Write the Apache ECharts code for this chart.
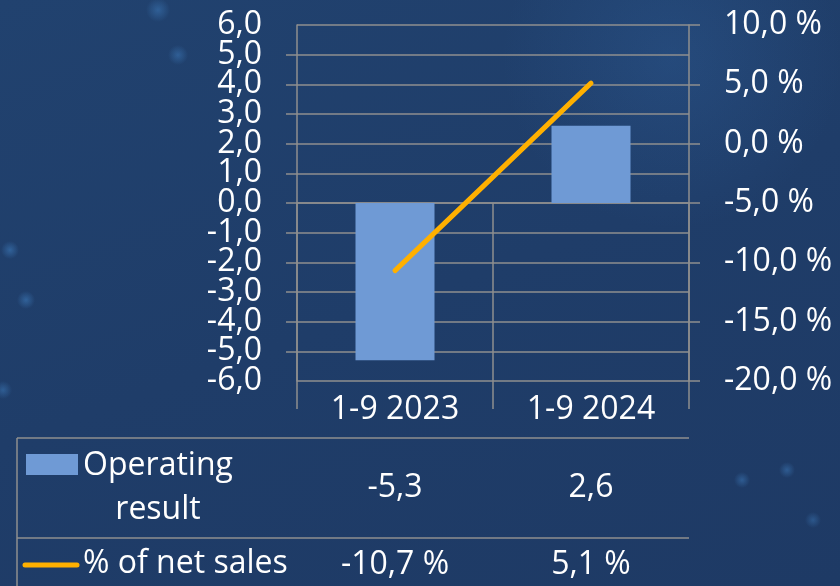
<!DOCTYPE html>
<html>
<head>
<meta charset="utf-8">
<script src="https://cdn.jsdelivr.net/npm/echarts@6/dist/echarts.min.js"></script>
<style>
    html, body { margin: 0; padding: 0; }
    body {
        width: 840px; height: 586px; overflow: hidden;
        /* dark blue backdrop with a few soft bokeh spots */
        background:
            radial-gradient(circle at 10px 250px, rgba(70, 140, 210, 0.45) 0, rgba(70, 140, 210, 0) 9px),
            radial-gradient(circle at 26px 300px, rgba(70, 140, 210, 0.45) 0, rgba(70, 140, 210, 0) 9px),
            radial-gradient(circle at 3px 390px, rgba(70, 140, 210, 0.4) 0, rgba(70, 140, 210, 0) 9px),
            radial-gradient(circle at 158px 10px, rgba(70, 140, 210, 0.4) 0, rgba(70, 140, 210, 0) 12px),
            radial-gradient(circle at 178px 55px, rgba(70, 140, 210, 0.4) 0, rgba(70, 140, 210, 0) 10px),
            radial-gradient(circle at 742px 480px, rgba(70, 140, 210, 0.4) 0, rgba(70, 140, 210, 0) 8px),
            radial-gradient(circle at 787px 470px, rgba(70, 140, 210, 0.4) 0, rgba(70, 140, 210, 0) 8px),
            radial-gradient(circle at 813px 520px, rgba(70, 140, 210, 0.35) 0, rgba(70, 140, 210, 0) 8px),
            radial-gradient(circle at 80% 10%, rgba(60, 120, 190, 0.2) 0, rgba(60, 120, 190, 0) 170px),
            linear-gradient(160deg, #21426f 0%, #1f3d69 50%, #1e3a65 100%);
    }
    #chart { width: 840px; height: 586px; }
</style>
</head>
<body>
<div id="chart"></div>
<script>
// data
var categories = ['1-9 2023', '1-9 2024'];
var seriesNames = ['Operating result', '% of net sales'];
var operatingResult = [-5.3, 2.6];
var pctOfNetSales = [-10.7, 5.1];
var leftMin = -6, leftMax = 6;

var gridColor = '#8f8f8f';
var barColor = '#6f9ad5';
var lineColor = '#ffb000';
var font = 'Open Sans';
var fontSize = 32;

function comma(v) {
    return v.toFixed(1).replace('.', ',');
}

var chart = echarts.init(document.getElementById('chart'));

// value rows of the table are drawn as extra category axes below the grid
function tableRow(values, fmt, offset) {
    return {
        type: 'category',
        gridIndex: 0,
        position: 'bottom',
        offset: offset,
        data: values.map(fmt),
        axisLine: {show: false},
        axisTick: {show: false},
        axisLabel: {
            color: '#fff', fontFamily: font, fontSize: fontSize, lineHeight: 30,
            margin: 14, interval: 0
        }
    };
}

var leftLabel = {color: '#fff', fontFamily: font, fontSize: fontSize, margin: 35};

chart.setOption({
    animation: false,
    grid: {left: 297, top: 25, width: 392, height: 356},
    xAxis: [
        {
            type: 'category',
            data: categories,
            axisLine: {show: true, lineStyle: {color: gridColor, width: 1.5}},
            axisTick: {show: true, length: 206, interval: 0, lineStyle: {color: gridColor, width: 1.5}},
            axisLabel: {
                color: '#fff', fontFamily: font, fontSize: fontSize, lineHeight: 30,
                margin: 14, interval: 0
            }
        },
        tableRow(operatingResult, comma, 78),
        tableRow(pctOfNetSales, function (v) { return comma(v) + ' %'; }, 155)
    ],
    yAxis: [
        {
            type: 'value',
            min: leftMin, max: leftMax, interval: 1,
            axisLine: {show: true, lineStyle: {color: gridColor, width: 1.5}},
            axisTick: {show: true, length: 11, lineStyle: {color: gridColor, width: 1.5}},
            splitLine: {show: true, lineStyle: {color: gridColor, width: 1.5}},
            axisLabel: Object.assign({
                showMinLabel: false, showMaxLabel: false, formatter: comma
            }, leftLabel)
        },
        {
            type: 'value',
            min: -20, max: 10, interval: 5,
            position: 'right',
            axisLine: {show: true, lineStyle: {color: gridColor, width: 1.5}},
            axisTick: {show: true, length: 11, lineStyle: {color: gridColor, width: 1.5}},
            splitLine: {show: false},
            axisLabel: {
                color: '#fff', fontFamily: font, fontSize: fontSize, margin: 35,
                showMinLabel: true, showMaxLabel: true,
                formatter: function (v) { return comma(v) + ' %'; }
            }
        },
        {
            // only the end labels of the left axis (they touch their neighbours)
            type: 'value',
            position: 'left',
            min: leftMin, max: leftMax, interval: 1,
            axisLine: {show: false},
            axisTick: {show: false},
            splitLine: {show: false},
            axisLabel: Object.assign({
                showMinLabel: true, showMaxLabel: true,
                formatter: function (v) { return (v === leftMin || v === leftMax) ? comma(v) : ''; }
            }, leftLabel)
        }
    ],
    series: [
        {
            name: seriesNames[0],
            type: 'bar',
            barWidth: 79,
            itemStyle: {color: barColor},
            data: operatingResult
        },
        {
            name: seriesNames[1],
            type: 'line',
            yAxisIndex: 1,
            symbol: 'none',
            lineStyle: {color: lineColor, width: 5, cap: 'round'},
            data: pctOfNetSales
        }
    ],
    graphic: [
        // table borders
        {type: 'line', shape: {x1: 17, y1: 438, x2: 689, y2: 438}, style: {stroke: gridColor, lineWidth: 1.5}},
        {type: 'line', shape: {x1: 17, y1: 538, x2: 689, y2: 538}, style: {stroke: gridColor, lineWidth: 1.5}},
        {type: 'line', shape: {x1: 17, y1: 438, x2: 17, y2: 586}, style: {stroke: gridColor, lineWidth: 1.5}},
        // legend keys
        {type: 'rect', shape: {x: 26, y: 454, width: 52, height: 21}, style: {fill: barColor}},
        {
            type: 'text', x: 158, y: 488,
            style: {
                text: seriesNames[0].replace(' ', '\n'), fill: '#fff',
                font: fontSize + 'px "Open Sans"', lineHeight: 44,
                align: 'center', verticalAlign: 'middle'
            }
        },
        {type: 'line', shape: {x1: 25, y1: 565, x2: 77, y2: 565}, style: {stroke: lineColor, lineWidth: 5, lineCap: 'round'}},
        {
            type: 'text', x: 83, y: 564,
            style: {
                text: seriesNames[1], fill: '#fff',
                font: fontSize + 'px "Open Sans"', align: 'left', verticalAlign: 'middle'
            }
        }
    ]
});
</script>
</body>
</html>
